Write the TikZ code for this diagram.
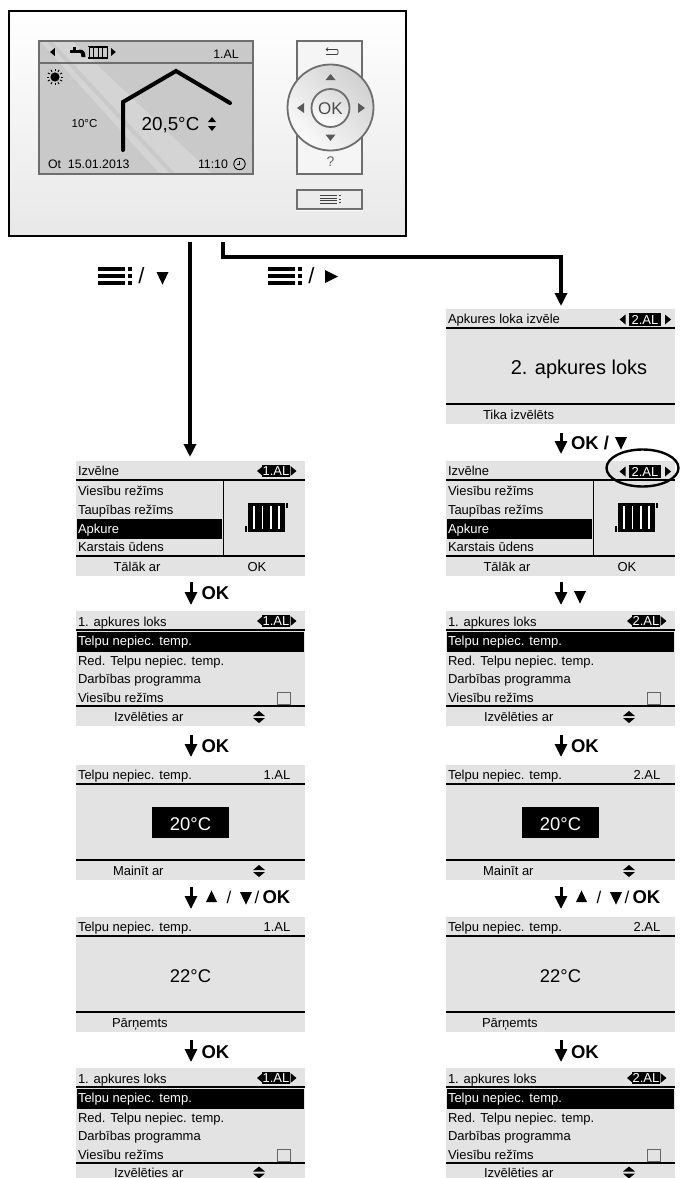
\documentclass[tikz,border=0pt]{standalone}
\usepackage{fontspec}
\setmainfont{Liberation Sans}
\usetikzlibrary{arrows.meta,shapes.geometric}
\definecolor{panelgray}{HTML}{E3E3E3}
\definecolor{screengray}{HTML}{C9C9C9}
\definecolor{framegray}{HTML}{6E6E6E}
\newcounter{tn}
\def\listfooty{106}
\tikzset{
  txtbase/.style={inner sep=0pt,outer sep=0pt,text=black,font=\fontsize{13}{15}\selectfont},
  devtext/.style={font=\fontsize{12.3}{14}\selectfont},
  panelbox/.style={fill=panelgray,draw=none,anchor=north west,inner sep=0pt,outer sep=0pt,minimum width=229pt,minimum height=115pt},
  rule/.style={line width=1.2pt,draw=black},
  mainflow/.style={line width=3.2pt,draw=black,-{Triangle[length=13pt,width=12pt]}},
  stepflow/.style={line width=3pt,draw=black,-{Triangle[length=13pt,width=12pt]}},
  steplabel/.style={txtbase,font=\fontsize{18.5}{20}\selectfont\bfseries},
}
% left-aligned text, vertical middle given
\newcommand\tl[3][]{\stepcounter{tn}\node[txtbase,anchor=base west,yshift=-4.5pt,name=t\thetn,#1] at (#2) {#3};}
% centred text
\newcommand\tc[3][]{\stepcounter{tn}\node[txtbase,anchor=base,yshift=-4.5pt,name=t\thetn,#1] at (#2) {#3};}
\newcommand\updown[2]{%
  \fill[black] (#1-6,#2-1)--(#1+6,#2-1)--(#1,#2-6)--cycle;
  \fill[black] (#1-6,#2+1)--(#1+6,#2+1)--(#1,#2+6)--cycle;}
\newcommand\triL[3]{\fill[black] (#1,#2)--(#1+#3*.6,#2-#3/2)--(#1+#3*.6,#2+#3/2)--cycle;}
\newcommand\triR[3]{\fill[black] (#1,#2-#3/2)--(#1+#3*.6,#2)--(#1,#2+#3/2)--cycle;}
\newcommand\tagTight[1]{%
  \fill[black] (186,4) rectangle (214,16);
  \triL{181}{10}{10}\triR{214.5}{10}{10}
  \tc[text=white]{200,10.3}{#1}}
\newcommand\tagWide[1]{%
  \fill[black] (183,4) rectangle (215,17);
  \triL{173.5}{10.5}{10}\triR{219}{10.5}{10}
  \tc[text=white]{199,10.5}{#1}}
\newcommand\radiator{%
  \fill[black] (172,42) rectangle (209,71);
  \fill[white] (177.3,45) rectangle (178.8,68);
  \fill[white] (185.8,45) rectangle (187.3,68);
  \fill[white] (194.3,45) rectangle (195.8,68);
  \fill[white] (202.3,45) rectangle (203.8,68);
  \fill[black] (169,65) rectangle (171,71);
  \fill[black] (210,42) rectangle (212,47);}
% menu panel: name, x, y, tag code
\newcommand\menupanel[4]{%
  \begin{scope}[shift={(#2,#3)}]
  \node[panelbox] (#1) at (0,0) {};
  \tl{2,10}{Izvēlne}
  #4
  \draw[rule] (0,19)--(229,19);
  \draw[rule] (0,95)--(229,95);
  \draw[line width=1pt] (147,19)--(147,95);
  \fill[black] (1,58) rectangle (146,78);
  \tl{2,30}{Viesību režīms}
  \tl{2,49}{Taupības režīms}
  \tl[text=white]{2,68}{Apkure}
  \tl{2,86}{Karstais ūdens}
  \tc{61,106}{Tālāk ar}
  \tc{181,106}{OK}
  \radiator
  \end{scope}}
% list panel: name, x, y, tag text
\newcommand\listpanel[4]{%
  \begin{scope}[shift={(#2,#3)}]
  \node[panelbox] (#1) at (0,0) {};
  \tl{2,10.5}{1. apkures loks}
  \tagTight{#4}
  \draw[rule] (0,19)--(229,19);
  \fill[black] (1,21) rectangle (228,41);
  \tl[text=white]{2,30}{Telpu nepiec. temp.}
  \tl{2,49.5}{Red. Telpu nepiec. temp.}
  \tl{2,68}{Darbības programma}
  \tl{2,87}{Viesību režīms}
  \draw[black!60,line width=.8pt,fill=panelgray] (201.5,81.5) rectangle (214.5,93);
  \draw[rule] (0,95)--(229,95);
  \tl{38,\listfooty}{Izvēlēties ar}
  \updown{183}{\listfooty}
  \end{scope}}
% value panel: name, x, y, tag, value code, footer, footer x
\newcommand\valuepanel[7]{%
  \begin{scope}[shift={(#2,#3)}]
  \node[panelbox] (#1) at (0,0) {};
  \tl{2,10}{Telpu nepiec. temp.}
  \tc{201,10}{#4}
  \draw[rule] (0,19)--(229,19);
  \draw[rule] (0,95)--(229,95);
  #5
  \tl{#7,106}{#6}
  \end{scope}}
\newcommand\bigsel{%
  \fill[black] (76,42) rectangle (153,73);
  \tc[text=white,font=\fontsize{18.4}{20}\selectfont,yshift=-2.2pt]{114.5,59}{20°C}}
\newcommand\bigval{%
  \tc[font=\fontsize{18.4}{20}\selectfont,yshift=-2.2pt]{114.5,59}{22°C}}
\newcommand\menubars[2]{% x, y top
  \foreach \k in {0,1,2} {
    \fill[black] (#1,#2+\k*7.2) rectangle (#1+27,#2+\k*7.2+3.6);
    \fill[black] (#1+30,#2+\k*7.2) rectangle (#1+34,#2+\k*7.2+3.6);
  }}
\newcommand\triD[3]{\fill[black] (#1-#3/2,#2)--(#1+#3/2,#2)--(#1,#2+#3*1.05)--cycle;}
\newcommand\triU[3]{\fill[black] (#1-#3/2,#2)--(#1+#3/2,#2)--(#1,#2-#3*1.05)--cycle;}
\begin{document}
\begin{tikzpicture}[x=1pt,y=-1pt]
\useasboundingbox (0,0) rectangle (680,1178);
\clip (0,0) rectangle (680,1178);
\fill[white] (0,0) rectangle (680,1178);

% ---------- device ----------
\shade[top color=white,bottom color=black!9] (8,10) rectangle (405,235);
\node[draw=black,line width=1.8pt,fill=none,anchor=north west,inner sep=0pt,minimum width=397pt,minimum height=225pt] (device) at (8,10) {};
% screen
\begin{scope}
\clip (39,41) rectangle (253,174);
\fill[screengray] (39,41) rectangle (253,174);
\fill[white,opacity=.22] (52,41)--(72,41)--(212,174)--(176,174)--cycle;
\fill[white,opacity=.22] (40,41)--(46,41)--(170,174)--(160,174)--cycle;
\end{scope}
\draw[framegray,line width=2pt] (39,41) rectangle (253,174);
\draw[framegray,line width=2pt] (39,63)--(253,63);
\tc[devtext,yshift=.3pt]{226,54}{1.AL}
\triL{50}{52}{8}
\triR{111}{52}{8}
% tap
\fill[black] (70,49.5) rectangle (80,52.5);
\fill[black] (73,47) rectangle (76,50);
\fill[black] (79,49.5) .. controls (84,49.5) and (85.5,52) .. (85.5,57) -- (81.5,57) .. controls (81.5,54) and (81,52.5) .. (79,52.5) -- cycle;
% radiator
\draw[black,line width=.9pt] (89.5,47) rectangle (107,57.5);
\draw[black,line width=.9pt] (93.5,47)--(93.5,57.5) (98,47)--(98,57.5) (102.5,47)--(102.5,57.5);
\draw[black,line width=1.5pt] (88,46.5)--(108,46.5) (88,58)--(108,58);
% sun
\fill[black] (55,77) circle (4.6);
\foreach \a in {0,30,...,330} {\draw[black,line width=.9pt] (55,77) ++(\a:5.8) -- ++(\a:2.4);}
% house curve
\draw[black,line width=4pt,line cap=round,line join=miter] (123,150)--(123,102)--(176,71)--(230,103);
\tc[font=\fontsize{18.8}{20}\selectfont,yshift=-2.2pt]{170.5,124}{20,5°C}
\fill[black] (208,122)--(216,122)--(212,117)--cycle;
\fill[black] (208,126)--(216,126)--(212,131)--cycle;
\tc[font=\fontsize{11.5}{14}\selectfont,yshift=.3pt]{84.5,123}{10°C}
\tl[devtext,yshift=.3pt]{48,164}{Ot\hspace{7pt}15.01.2013}
\tl[devtext,yshift=.3pt]{198,164}{11:10}
\draw[black,line width=.9pt] (239.5,164) circle (5.7);
\draw[black,line width=.8pt] (239.8,160.5)--(239.8,164.5)--(236.5,164.5);
% keypad
\fill[white!96!black] (297,41) rectangle (362,174);
\draw[framegray,line width=2pt] (297,41) rectangle (362,174);
\shade[left color=black!18,right color=black!2,shading angle=-45,draw=none] (330.5,107.5) circle (43);
\draw[framegray,line width=1.8pt] (330.5,107.5) circle (43);
\shade[left color=black!15,right color=white,shading angle=-30] (330.5,108) circle (19);
\draw[framegray,line width=1.8pt] (330.5,108) circle (19);
\tc[text=black!70,font=\fontsize{17}{18}\selectfont,yshift=-1.6pt]{330.5,108}{OK}
\fill[black!65] (325.5,80)--(335.5,80)--(330.5,74)--cycle;
\fill[black!65] (325.5,134.5)--(335.5,134.5)--(330.5,141)--cycle;
\fill[black!65] (304,103)--(304,113)--(297,108)--cycle;
\fill[black!65] (358,103)--(358,113)--(365,108)--cycle;
\tc[text=black!60,font=\fontsize{14}{16}\selectfont]{330.5,162}{?}
\draw[black!75,line width=.8pt] (326,49.5)--(337,49.5) .. controls (338.5,49.5) and (338.5,54.5) .. (337,54.5) -- (326,54.5);
\draw[black!75,line width=.7pt] (328,47.5)--(326,49.5)--(328,51);
\fill[white] (296,209) rectangle (363,210.5);
\draw[framegray,line width=2pt] (297,190) rectangle (362,209);
\fill[black!75] (320,195) rectangle (337,196);
\fill[black!75] (320,197.5) rectangle (337,198.5);
\fill[black!75] (320,200) rectangle (337,201);
\fill[black!75] (320,202.5) rectangle (337,203.5);
\fill[black!75] (339,195) rectangle (341,196.2);
\fill[black!75] (339,198.5) rectangle (341,199.7);
\fill[black!75] (339,202) rectangle (341,203.2);

% ---------- panels: left column ----------
\menupanel{la}{76}{461}{\tagTight{1.AL}}
\listpanel{lb}{76}{611}{1.AL}
\valuepanel{lc}{76}{765}{1.AL}{\bigsel}{Mainīt ar}{37}
\begin{scope}[shift={(76,765)}]\updown{183}{106}\end{scope}
\valuepanel{ld}{76}{917}{1.AL}{\bigval}{Pārņemts}{36}

% ---------- panels: right column ----------
\begin{scope}[shift={(446,309)}]
\node[panelbox] (rt) at (0,0) {};
\tl{2,10}{Apkures loka izvēle}
\tagWide{2.AL}
\draw[rule] (0,19)--(229,19);
\draw[rule] (0,95)--(229,95);
\tc[font=\fontsize{20}{22}\selectfont,yshift=-2.7pt]{133,58}{2. apkures loks}
\tl{37,106}{Tika izvēlēts}
\end{scope}
\menupanel{ra}{446}{461}{\tagWide{2.AL}}
\listpanel{rb}{446}{611}{2.AL}
\valuepanel{rc}{446}{765}{2.AL}{\bigsel}{Mainīt ar}{37}
\begin{scope}[shift={(446,765)}]\updown{183}{106}\end{scope}
\valuepanel{rd}{446}{917}{2.AL}{\bigval}{Pārņemts}{36}

% last row: footer sits a little higher, at the picture's lower edge
\def\listfooty{104.5}
\listpanel{le}{76}{1068}{1.AL}
\listpanel{re}{446}{1068}{2.AL}

% highlight ellipse
\node[draw=black,line width=2.4pt,ellipse,inner sep=0pt,minimum width=72pt,minimum height=37pt,fill=none] (hl) at (642.5,468) {};

% ---------- main connectors ----------
\coordinate (startL) at (190,242);
\coordinate (startR) at (223,242);
\coordinate (bendR) at (223,257);
\coordinate (lx) at (191,0);
\coordinate (rx) at (561,0);
\draw[mainflow,shorten >=4pt] (startL) -- (startL |- la.north);
\draw[mainflow,shorten >=3pt,line join=miter] (startR) -- (bendR) -- (rx |- bendR) -- (rx |- rt.north);

\menubars{98}{267}
\tc[font=\fontsize{22}{24}\selectfont,yshift=-3.4pt]{141.5,276}{/}
\triD{162.5}{272}{12}
\menubars{268}{267}
\tc[font=\fontsize{22}{24}\selectfont,yshift=-3.4pt]{311.5,276}{/}
\fill[black] (325,270)--(325,283)--(338,276.5)--cycle;

% ---------- step connectors ----------
\draw[stepflow,shorten <=6pt,shorten >=6pt] (la.south -| lx) -- (lb.north -| lx);
\draw[stepflow,shorten <=9pt,shorten >=8pt] (lb.south -| lx) -- (lc.north -| lx);
\draw[stepflow,shorten <=7pt,shorten >=8pt] (lc.south -| lx) -- (ld.north -| lx);
\draw[stepflow,shorten <=8pt,shorten >=6pt] (ld.south -| lx) -- (le.north -| lx);
\draw[stepflow,shorten <=9pt,shorten >=7pt] (rt.south -| rx) -- (ra.north -| rx);
\draw[stepflow,shorten <=6pt,shorten >=6pt] (ra.south -| rx) -- (rb.north -| rx);
\draw[stepflow,shorten <=9pt,shorten >=8pt] (rb.south -| rx) -- (rc.north -| rx);
\draw[stepflow,shorten <=7pt,shorten >=8pt] (rc.south -| rx) -- (rd.north -| rx);
\draw[stepflow,shorten <=8pt,shorten >=6pt] (rd.south -| rx) -- (re.north -| rx);

% step labels, left
\tl[steplabel,yshift=-2.1pt]{201.5,593}{OK}
\tl[steplabel,yshift=-2.1pt]{201.5,746}{OK}
\tl[steplabel,yshift=-2.1pt]{201.5,1052}{OK}
\triU{211.5}{902}{11}
\tc[font=\fontsize{17}{20}\selectfont,yshift=-1.6pt]{229,897}{/}
\triD{246}{892}{12}
\tc[font=\fontsize{17}{20}\selectfont,yshift=-1.6pt]{257,897}{/}
\tl[steplabel,yshift=-2.1pt]{262.5,897}{OK}
% step labels, right
\tl[steplabel,yshift=-2.1pt]{571,443}{OK / }
\triD{621}{437}{12}
\triD{580}{591}{12}
\tl[steplabel,yshift=-2.1pt]{571,746}{OK}
\tl[steplabel,yshift=-2.1pt]{571,1052}{OK}
\triU{581.5}{902}{11}
\tc[font=\fontsize{17}{20}\selectfont,yshift=-1.6pt]{599,897}{/}
\triD{616}{892}{12}
\tc[font=\fontsize{17}{20}\selectfont,yshift=-1.6pt]{627,897}{/}
\tl[steplabel,yshift=-2.1pt]{632.5,897}{OK}
\end{tikzpicture}
\end{document}
